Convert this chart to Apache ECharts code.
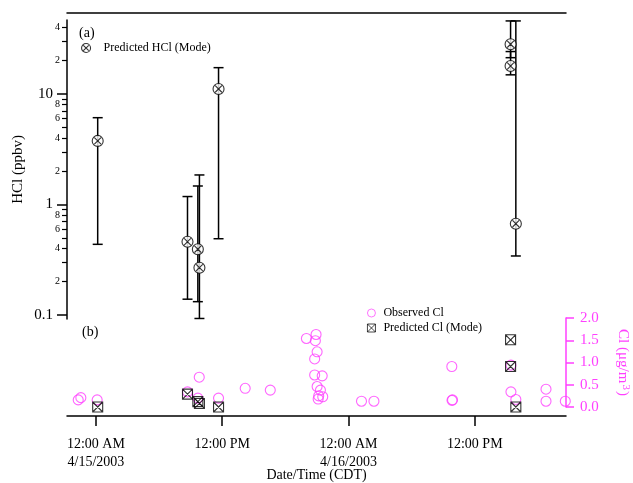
<!DOCTYPE html>
<html>
<head>
<meta charset="utf-8">
<script src="https://cdn.jsdelivr.net/npm/echarts@6/dist/echarts.min.js"></script>
<style>
html,body{margin:0;padding:0;background:#fff;}
#chart{width:633px;height:483px;}
</style>
</head>
<body>
<div id="chart"></div>
<script>
// ---------- data ----------
const xRange = ['2003-04-14 21:15', '2003-04-16 20:40'];
const xTickTimes = ['2003-04-15 00:00', '2003-04-15 12:00', '2003-04-16 00:00', '2003-04-16 12:00'];
const xTickLabels = ['12:00 AM\n4/15/2003', '12:00 PM', '12:00 AM\n4/16/2003', '12:00 PM'];

const hclMajorTicks = [0.1, 1, 10];
const hclMajorLabels = ['0.1', '1', '10'];
const hclMinorTicks = [0.2, 0.3, 0.4, 0.5, 0.6, 0.7, 0.8, 0.9, 2, 3, 4, 5, 6, 7, 8, 9, 20, 30, 40];
const hclMinorLabelTicks = [0.2, 0.4, 0.6, 0.8, 2, 4, 6, 8, 20, 40];
const hclMinorLabels = ['2', '4', '6', '8', '2', '4', '6', '8', '2', '4'];
const hclRange = [0.092, 46.7];

const hclTimes = ['2003-04-15 00:10', '2003-04-15 08:42', '2003-04-15 09:41', '2003-04-15 09:50',
                  '2003-04-15 11:39', '2003-04-16 15:24', '2003-04-16 15:24', '2003-04-16 15:54'];
const hclMode = [3.76, 0.46, 0.394, 0.268, 11.1, 28.2, 17.9, 0.67];
const hclLow  = [0.436, 0.139, 0.132, 0.093, 0.49, 21.3, 14.9, 0.342];
const hclHigh = [6.1, 1.18, 1.47, 1.85, 17.3, 45.8, 24.2, 45.8];

const clPredTimes = hclTimes;
const clPred = [0.0, 0.29, 0.12, 0.08, 0.0, 1.51, 0.91, 0.0];

const clObsTimes = ['2003-04-14 22:19', '2003-04-14 22:34', '2003-04-15 00:07', '2003-04-15 08:42',
  '2003-04-15 09:41', '2003-04-15 09:49', '2003-04-15 11:39', '2003-04-15 14:11', '2003-04-15 16:34',
  '2003-04-15 20:00', '2003-04-15 20:47', '2003-04-15 20:47', '2003-04-15 20:51', '2003-04-15 20:55',
  '2003-04-15 21:01', '2003-04-15 21:01', '2003-04-15 21:07', '2003-04-15 21:10', '2003-04-15 21:20',
  '2003-04-15 21:30', '2003-04-15 21:33', '2003-04-16 01:14', '2003-04-16 02:25', '2003-04-16 09:49',
  '2003-04-16 09:53', '2003-04-16 09:50', '2003-04-16 15:26', '2003-04-16 15:26', '2003-04-16 15:54',
  '2003-04-16 18:46', '2003-04-16 18:46', '2003-04-16 20:36'];
const clObs = [0.16, 0.21, 0.16, 0.34, 0.20, 0.67, 0.20, 0.42, 0.38, 1.54, 1.08, 0.72, 1.49, 1.63,
  1.24, 0.46, 0.18, 0.25, 0.38, 0.70, 0.23, 0.13, 0.13, 0.91, 0.16, 0.15, 0.94, 0.34, 0.17,
  0.40, 0.13, 0.13];

const clTicks = [0, 0.5, 1.0, 1.5, 2.0];
const clTickLabels = ['0.0', '0.5', '1.0', '1.5', '2.0'];

// ---------- helpers ----------
function t(s) {
  const [d, h] = s.split(' ');
  const [Y, M, D] = d.split('-').map(Number);
  const [hh, mm] = h.split(':').map(Number);
  return Date.UTC(Y, M - 1, D, hh, mm);
}
function lookup(vals, labels, v) {
  let best = 0, bd = Infinity;
  vals.forEach((x, i) => { const dd = Math.abs(x - v) / Math.abs(x || 1); if (dd < bd) { bd = dd; best = i; } });
  return labels[best];
}
const FONT = 'Liberation Serif';
const MAG = '#ff40ff';
const xMin = t(xRange[0]), xMax = t(xRange[1]);
const xTickVals = xTickTimes.map(t);

const otimesSym = 'path://M0,-10A10,10,0,1,1,0,10A10,10,0,1,1,0,-10Z M-6,-6L6,6 M6,-6L-6,6';
const boxXSym = 'path://M-10,-10L10,-10L10,10L-10,10Z M-10,-10L10,10 M10,-10L-10,10';

const chart = echarts.init(document.getElementById('chart'), null, {renderer: 'canvas'});
const option = {
  animation: false,
  backgroundColor: '#fff',
  textStyle: {fontFamily: FONT},
  title: [
    {text: '(a)', left: 74, top: 21, textStyle: {fontFamily: FONT, fontSize: 14, fontWeight: 'normal', color: '#000'}},
    {text: '(b)', left: 77, top: 320, textStyle: {fontFamily: FONT, fontSize: 14, fontWeight: 'normal', color: '#000'}}
  ],
  legend: [
    {data: ['Predicted HCl (Mode)'], left: 76, top: 37, itemWidth: 9, itemHeight: 9,
     itemStyle: {borderWidth: 1.1},
     textStyle: {fontFamily: FONT, fontSize: 12, color: '#000', padding: [0, 0, 0, 8]}},
    {data: ['Observed Cl', 'Predicted Cl (Mode)'], orient: 'vertical', left: 362, top: 302,
     itemWidth: 8, itemHeight: 8, itemGap: 3,
     itemStyle: {borderWidth: 0.9},
     textStyle: {fontFamily: FONT, fontSize: 12, color: '#000', padding: [0, 0, 0, 3]}}
  ],
  grid: [
    {left: 67, right: 67, top: 20, height: 299, outerBoundsMode: 'none', containLabel: false},
    {left: 67, right: 67, top: 318, height: 98, outerBoundsMode: 'none', containLabel: false},
    {left: 67, right: 67, top: 318, height: 89, outerBoundsMode: 'none', containLabel: false}
  ],
  xAxis: [
    {gridIndex: 0, type: 'value', min: xMin, max: xMax, position: 'top', offset: 7,
     axisLine: {show: true, onZero: false, lineStyle: {color: '#000', width: 1.5}},
     axisTick: {show: false}, axisLabel: {show: false}, splitLine: {show: false}},
    {gridIndex: 1, type: 'value', min: xMin, max: xMax, position: 'bottom',
     axisLine: {show: true, onZero: false, lineStyle: {color: '#000', width: 1.5}},
     axisTick: {show: true, customValues: xTickVals, length: 10, lineStyle: {color: '#000', width: 1.5}},
     axisLabel: {show: true, customValues: xTickVals, margin: 19, fontFamily: FONT, fontSize: 14,
       lineHeight: 18, color: '#000', formatter: v => lookup(xTickVals, xTickLabels, v)},
     splitLine: {show: false},
     name: 'Date/Time (CDT)', nameLocation: 'middle', nameGap: 52, nameMoveOverlap: false,
     nameTextStyle: {fontFamily: FONT, fontSize: 14, color: '#000'}},
    {gridIndex: 2, type: 'value', min: xMin, max: xMax, show: false}
  ],
  yAxis: [
    {gridIndex: 0, type: 'log', min: hclRange[0], max: hclRange[1], position: 'left',
     axisLine: {show: true, onZero: false, lineStyle: {color: '#000', width: 1.5}},
     axisTick: {show: true, customValues: hclMajorTicks, length: 10, lineStyle: {color: '#000', width: 1.5}},
     axisLabel: {show: true, customValues: hclMajorTicks, margin: 14, fontFamily: FONT, fontSize: 15, color: '#000',
       formatter: v => lookup(hclMajorTicks, hclMajorLabels, v)},
     splitLine: {show: false},
     name: 'HCl (ppbv)', nameLocation: 'middle', nameGap: 41, nameMoveOverlap: false,
     nameTextStyle: {fontFamily: FONT, fontSize: 15, color: '#000'}},
    {gridIndex: 0, type: 'log', min: hclRange[0], max: hclRange[1], position: 'left',
     axisLine: {show: false},
     axisTick: {show: true, customValues: hclMinorTicks, length: 5, lineStyle: {color: '#000', width: 1.2}},
     axisLabel: {show: true, customValues: hclMinorLabelTicks, margin: 7, fontFamily: FONT, fontSize: 10, color: '#000',
       formatter: v => lookup(hclMinorLabelTicks, hclMinorLabels, v)},
     splitLine: {show: false}},
    {gridIndex: 1, type: 'value', min: 0, max: 1, show: false},
    {gridIndex: 2, type: 'value', min: 0, max: 2, interval: 0.5, position: 'right',
     axisLine: {show: true, onZero: false, lineStyle: {color: MAG, width: 1.5}},
     axisTick: {show: true, length: 8, lineStyle: {color: MAG, width: 1.5}},
     axisLabel: {show: true, margin: 14, fontFamily: FONT, fontSize: 15, color: MAG,
       formatter: v => lookup(clTicks, clTickLabels, v)},
     splitLine: {show: false},
     name: 'Cl (μg/m{sup|3})', nameLocation: 'middle', nameRotate: -90, nameGap: 48, nameMoveOverlap: false,
     nameTextStyle: {fontFamily: FONT, fontSize: 15, color: MAG,
       rich: {sup: {fontFamily: FONT, fontSize: 11, color: MAG, verticalAlign: 'top', padding: [0, 1, 6, 1]}}}}
  ],
  series: [
    {
      name: 'HCl range', type: 'custom', xAxisIndex: 0, yAxisIndex: 0, z: 2,
      data: hclTimes.map((s, i) => [t(s), hclLow[i], hclHigh[i]]),
      encode: {x: 0, y: [1, 2]},
      renderItem: function (params, api) {
        const x = api.value(0);
        const lo = api.coord([x, api.value(1)]);
        const hi = api.coord([x, api.value(2)]);
        const hw = 5;
        const style = {stroke: '#000', lineWidth: 1.5};
        return {type: 'group', children: [
          {type: 'line', shape: {x1: lo[0], y1: lo[1], x2: hi[0], y2: hi[1]}, style: style},
          {type: 'line', shape: {x1: lo[0] - hw, y1: lo[1], x2: lo[0] + hw, y2: lo[1]}, style: style},
          {type: 'line', shape: {x1: hi[0] - hw, y1: hi[1], x2: hi[0] + hw, y2: hi[1]}, style: style}
        ]};
      }
    },
    {
      name: 'Predicted HCl (Mode)', type: 'scatter', xAxisIndex: 0, yAxisIndex: 0, z: 3,
      symbol: otimesSym, symbolSize: 11,
      itemStyle: {color: '#fff', borderColor: '#000', borderWidth: 1.1},
      data: hclTimes.map((s, i) => [t(s), hclMode[i]])
    },
    {
      name: 'Observed Cl', type: 'scatter', xAxisIndex: 2, yAxisIndex: 3, z: 3,
      symbol: 'circle', symbolSize: 10, clip: false,
      itemStyle: {color: 'rgba(0,0,0,0)', borderColor: MAG, borderWidth: 1.1},
      data: clObsTimes.map((s, i) => [t(s), clObs[i]])
    },
    {
      name: 'Predicted Cl (Mode)', type: 'scatter', xAxisIndex: 2, yAxisIndex: 3, z: 4,
      symbol: boxXSym, symbolSize: 10, clip: false,
      itemStyle: {color: 'rgba(255,255,255,0)', borderColor: '#000', borderWidth: 1.1},
      data: clPredTimes.map((s, i) => [t(s), clPred[i]])
    }
  ]
};
chart.setOption(option);
</script>
</body>
</html>
